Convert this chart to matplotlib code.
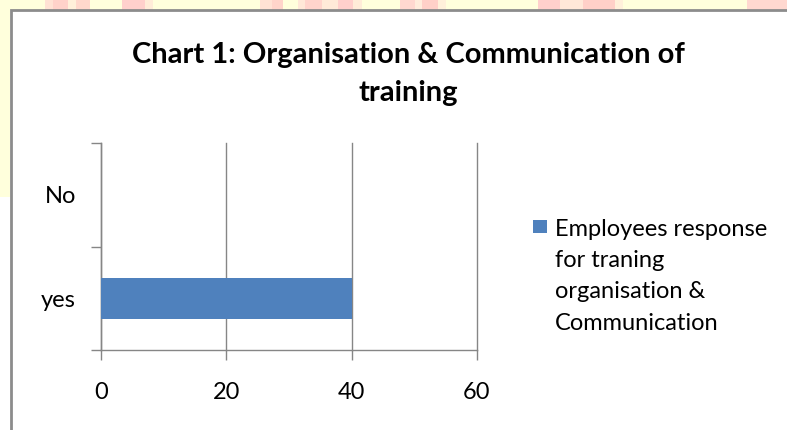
"""Chart 1: Organisation & Communication of training (horizontal bar)"""

import matplotlib
matplotlib.use('Agg')
import matplotlib.pyplot as plt
from matplotlib.patches import Rectangle

# data
categories = ['yes', 'No']
responses = [40, 0]
x_ticks = [0, 20, 40, 60]
title = 'Chart 1: Organisation & Communication of\ntraining'
legend_label = 'Employees response\nfor traning\norganisation &\nCommunication'

W, H = 787, 430
BAR_COLOR = '#4F81BD'
GRAY = '#868686'

plt.rcParams['font.family'] = ['Lato', 'DejaVu Sans']


def fx(px):
    return px / W


def fy(py):
    return 1 - py / H


fig = plt.figure(figsize=(W / 100, H / 100), dpi=100, facecolor='white')

# page background around the chart frame (yellow strip + pink watermark blocks)
fig.add_artist(Rectangle((0, fy(10)), 1, 10 / H, transform=fig.transFigure,
                         facecolor='#FFFFDC', edgecolor='none', zorder=0))
fig.add_artist(Rectangle((0, fy(197)), fx(10), 187 / H, transform=fig.transFigure,
                         facecolor='#FFFFDC', edgecolor='none', zorder=0))
blocks = [(45, 53, '#FFE2D4'), (53, 68, '#FFD2CA'), (68, 76, '#FFF0DA'),
          (76, 90, '#FFD8CC'), (122, 145, '#FFD0CC'), (145, 153, '#FFECD8'),
          (260, 272, '#FFE2D4'), (272, 283, '#FFD4CA'), (298, 305, '#FFE8D8'),
          (305, 322, '#FFD4CC'), (322, 338, '#FFEAD8'), (338, 353, '#FFD0CC'),
          (353, 362, '#FFECD8'), (400, 415, '#FFD8D0'), (415, 422, '#FFECDC'),
          (422, 438, '#FFD0C8'), (438, 446, '#FFF0DA'), (538, 560, '#FFD0CC'),
          (560, 583, '#FFE8D8'), (583, 615, '#FFD0C8'), (615, 623, '#FFF0DA'),
          (747, 787, '#FFD8D0')]
for x0, x1, c in blocks:
    fig.add_artist(Rectangle((fx(x0), fy(10)), fx(x1 - x0), 10 / H,
                             transform=fig.transFigure, facecolor=c,
                             edgecolor='none', zorder=0))

# chart frame
fig.add_artist(Rectangle((fx(10.5), -0.05), 1.1, fy(10.5) + 0.05,
                         transform=fig.transFigure, facecolor='white',
                         edgecolor='#8C8C8C', linewidth=2, zorder=1))

ax = fig.add_axes([fx(101), fy(350), fx(477 - 101), (350 - 143) / H])
ax.set_facecolor('none')
ax.set_zorder(2)

ypos = list(range(len(categories)))
ax.barh(ypos, responses, height=0.4, color=BAR_COLOR, zorder=3)

ax.set_xlim(0, 60)
ax.set_ylim(-0.5, len(categories) - 0.5)
ax.set_xticks(x_ticks)
ax.set_xticklabels([str(t) for t in x_ticks], fontsize=17)

# category boundaries as major ticks, labels on minor ticks
ax.set_yticks([i - 0.5 for i in range(len(categories) + 1)])
ax.set_yticklabels([])
ax.set_yticks(ypos, minor=True)
ax.set_yticklabels(categories, minor=True, fontsize=17)

ax.tick_params(axis='x', direction='out', length=7, width=1, color=GRAY, pad=16)
ax.tick_params(axis='y', which='major', direction='out', length=7, width=1, color=GRAY)
ax.tick_params(axis='y', which='minor', length=0, pad=18)

ax.xaxis.grid(True, color=GRAY, linewidth=1.0, zorder=1)
for gl in ax.get_xgridlines():
    gl.set_clip_on(False)
ax.set_axisbelow(True)
for side in ['top', 'right']:
    ax.spines[side].set_visible(False)
for side in ['left', 'bottom']:
    ax.spines[side].set_color(GRAY)
    ax.spines[side].set_linewidth(1.0)

# title
fig.text(fx(408), fy(42), title, ha='center', va='top', fontsize=21,
         fontweight='bold', linespacing=1.55, zorder=5)

# legend
fig.add_artist(Rectangle((fx(533), fy(233)), fx(14), 13 / H,
                         transform=fig.transFigure, facecolor=BAR_COLOR,
                         edgecolor='none', zorder=5))
fig.text(fx(555), fy(219), legend_label, ha='left', va='top', fontsize=17,
         linespacing=1.6, zorder=5)

fig.savefig('out.png', dpi=100)
